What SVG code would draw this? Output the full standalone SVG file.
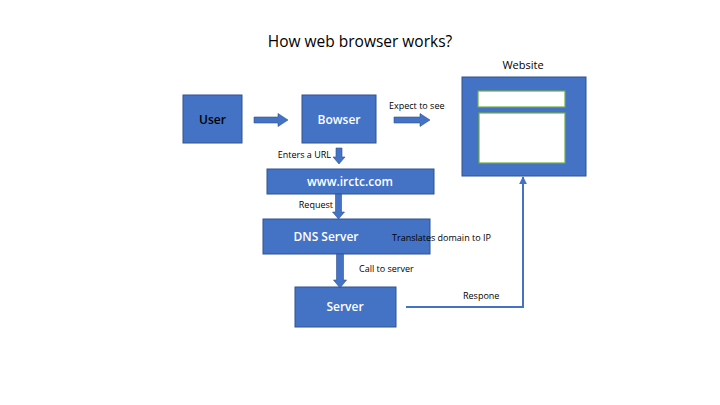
<svg xmlns="http://www.w3.org/2000/svg" width="720" height="405" viewBox="0 0 720 405">
<style>
.box{fill:#4472C4;stroke:#2F528F;stroke-width:1}
.inner{fill:#FFFFFF;stroke:#70AD47;stroke-width:1.2}
.bt{font-family:"Open Sans","Liberation Sans",sans-serif;font-size:12px;font-weight:600;fill:#FFFFFF;text-anchor:middle}
.lb{font-family:"Open Sans","Liberation Sans",sans-serif;font-size:9px;fill:#000000}
.blk{fill:#4472C4;stroke:#2F528F;stroke-width:0.6}
.ln{fill:none;stroke:#4472C4;stroke-width:2}
</style>
<defs>
<marker id="ah" viewBox="0 0 10 10" refX="9" refY="5" markerWidth="4" markerHeight="4" orient="auto"><path d="M0,0 L10,5 L0,10 z" fill="#4472C4"/></marker>
</defs>
<rect width="720" height="405" fill="#FFFFFF"/>
<text x="360" y="47" font-family="'Open Sans','Liberation Sans',sans-serif" font-size="15.5" fill="#000" text-anchor="middle">How web browser works?</text>
<g id="user"><rect class="box" x="183" y="95" width="59" height="48"/><text class="bt" x="212.5" y="124" style="fill:#000">User</text></g>
<g id="bowser"><rect class="box" x="302" y="95" width="74" height="48"/><text class="bt" x="339" y="124">Bowser</text></g>
<g id="website">
<text x="523" y="69" font-family="'Open Sans','Liberation Sans',sans-serif" font-size="11" fill="#000" text-anchor="middle">Website</text>
<rect class="box" x="462" y="77" width="124" height="99"/>
<rect class="inner" x="478" y="91" width="87" height="16"/>
<rect class="inner" x="479" y="113" width="86" height="50"/>
</g>
<g id="irctc"><rect class="box" x="267" y="169" width="167" height="25"/><text class="bt" x="350" y="186">www.irctc.com</text></g>
<g id="dns"><rect class="box" x="263" y="219" width="167" height="35"/><text class="bt" x="326" y="241">DNS Server</text></g>
<g id="server"><rect class="box" x="295" y="287" width="101" height="40"/><text class="bt" x="345" y="311">Server</text></g>
<g id="connectors">
<path class="blk" d="M254,117 L278,117 L278,113.5 L288,120 L278,126.5 L278,123 L254,123 z"/>
<path class="blk" d="M394,117 L420,117 L420,113.5 L430,120 L420,126.5 L420,123 L394,123 z"/>
<path class="blk" d="M336,148 L342,148 L342,157 L345,157 L339,164 L333,157 L336,157 z"/>
<path class="blk" d="M335.5,194 L341.5,194 L341.5,212 L344.5,212 L338.5,219 L332.5,212 L335.5,212 z"/>
<path class="blk" d="M336.5,254 L343.5,254 L343.5,280 L346.5,280 L340,288 L333.5,280 L336.5,280 z"/>
<path class="ln" marker-end="url(#ah)" d="M406,307 L523,307 L523,177"/>
</g>
<g id="labels">
<text class="lb" x="389" y="109">Expect to see</text>
<text class="lb" x="331" y="158" text-anchor="end">Enters a URL</text>
<text class="lb" x="333" y="208" text-anchor="end">Request</text>
<text class="lb" x="392" y="241">Translates domain to IP</text>
<text class="lb" x="359" y="272">Call to server</text>
<text class="lb" x="463" y="299">Respone</text>
</g>
</svg>
